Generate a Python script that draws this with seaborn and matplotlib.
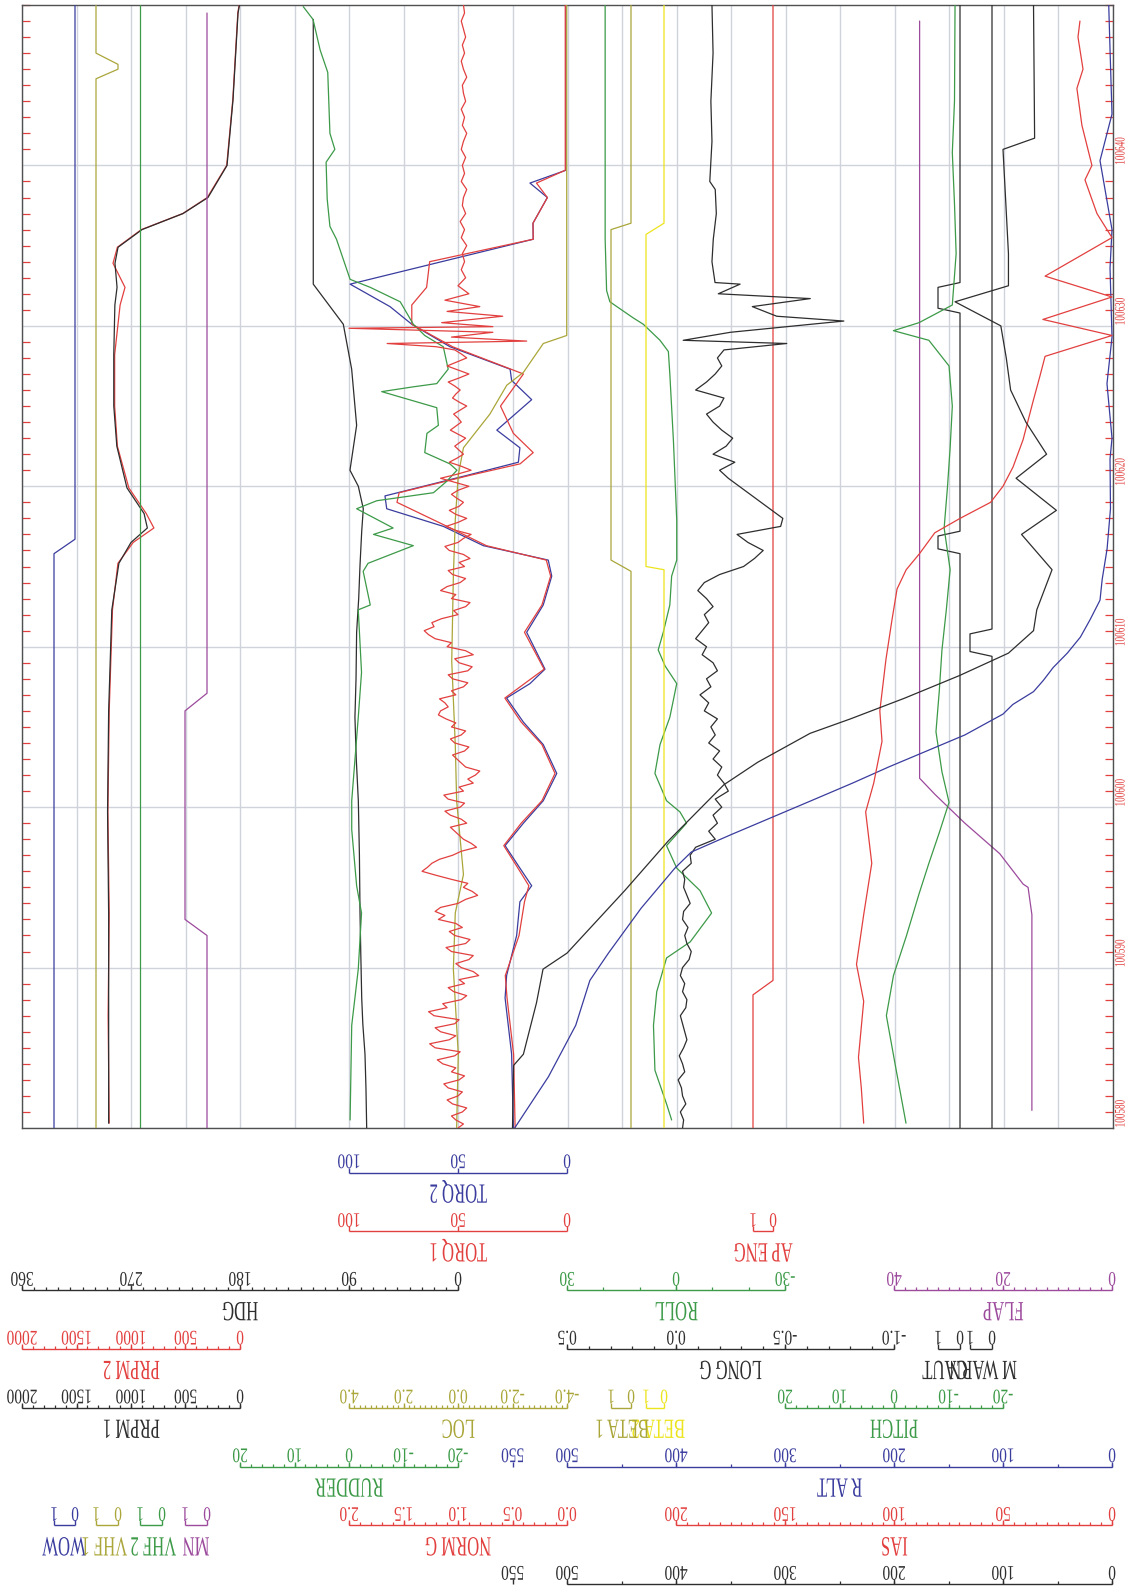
import numpy as np
import matplotlib
matplotlib.use("Agg")
import matplotlib.pyplot as plt
import seaborn as sns
from matplotlib.transforms import Affine2D, blended_transform_factory
from matplotlib.patheffects import AbstractPathEffect

# ------------------------------------------------------------------ data
T_START, T_END = 100580, 100650
TIME_LABELS = [100580, 100590, 100600, 100610, 100620, 100630, 100640]

ALT_TICKS = [0, 100, 200, 300, 400, 500, 550]
IAS_TICKS = [0, 50, 100, 150, 200]
NORM_G_TICKS = [0.0, 0.5, 1.0, 1.5, 2.0]
RUDDER_TICKS = [-20, -10, 0, 10, 20]
PITCH_TICKS = [-20, -10, 0, 10, 20]
LOC_TICKS = [-4.0, -2.0, 0.0, 2.0, 4.0]
PRPM_TICKS = [0, 500, 1000, 1500, 2000]
LONG_G_TICKS = [-1.0, -0.5, 0.0, 0.5]
HDG_TICKS = [0, 90, 180, 270, 360]
ROLL_TICKS = [-30, 0, 30]
FLAP_TICKS = [0, 20, 40]
TORQ_TICKS = [0, 50, 100]
DISCRETE_TICKS = [0, 1]

# normal load factor: samples on the half second from 100580.0 ...
NORM_G_EARLY = [
    1.00, 1.02, 0.96, 1.05, 1.00, 1.09, 0.99, 1.06, 1.14, 1.03,
    1.21, 1.08, 1.16, 1.03, 1.22, 1.10, 0.97, 1.04, 0.94, 0.81,
    0.97, 0.90, 1.06, 0.93, 1.03, 0.96, 1.18, 1.21, 1.00, 0.82,
    0.95, 1.06, 1.33, 1.24, 1.05, 0.83, 0.95, 1.03, 0.92, 1.07,
    0.98, 1.09, 0.95, 0.86, 0.84, 0.93, 1.01, 0.94, 1.03, 0.97,
    1.06, 1.11, 1.16, 1.12, 1.02, 0.95, 1.05, 0.91, 0.99, 0.86,
    1.10, 1.21, 1.31, 1.24, 1.00, 0.93, 1.06, 1.16, 0.98, 1.05,
    0.94, 0.89, 1.08, 1.00, 0.88, 1.11, 0.92, 1.08, 0.95, 1.06,
    0.90, 1.16, 0.88, 1.08, 0.95, 1.03, 0.93, 1.07, 0.97, 1.04,
    0.92, 1.05, 0.98, 1.09, 0.90, 1.10, 0.92, 1.03]
# ... and the samples in between them (100580.25, 100580.75, ...)
NORM_G_MID = [
    0.95, 1.06, 0.92, 1.10, 0.96, 1.13, 0.94, 1.02, 1.19, 0.98,
    1.26, 1.02, 1.21, 0.99, 1.27, 1.14, 0.92, 1.09, 0.99, 0.86,
    1.02, 0.86, 1.11, 0.89, 1.08, 1.02, 1.12, 1.16, 0.93, 0.87,
    0.91, 1.20, 1.28, 1.17, 0.97, 0.88, 0.99, 1.07, 0.97, 1.12,
    0.94, 1.13, 0.99, 0.91, 0.80, 0.97, 1.05, 0.90, 1.07, 0.93,
    1.02, 1.18, 1.09, 1.17, 1.06, 0.91, 1.09, 0.87, 1.03, 0.93,
    1.06, 1.27, 1.22, 1.15, 1.04, 0.89, 1.02, 1.10, 0.93, 1.09,
    0.99, 0.95, 1.12, 0.95, 1.02, 1.00, 1.02, 0.99, 1.01, 1.00,
    1.03, 1.01, 0.97, 1.01, 0.99, 0.98, 1.00, 1.02, 1.00, 0.98,
    0.99, 1.02, 1.03, 0.99, 1.00, 1.01, 0.97]
NORM_G_TD_T = [100628.7, 100628.9, 100629.05, 100629.3, 100629.6, 100629.85,
               100629.95, 100630.2, 100630.6, 100630.9, 100631.2, 100631.6]
NORM_G_TD = [1.20, 1.65, 0.37, 1.06, 0.68, 2.00, 0.68, 1.15, 0.59, 1.10, 0.80, 1.12]
NORM_G_LATE = [  # from 100632.0, every half second
    0.90, 1.00, 0.93, 0.97, 0.94, 0.96, 0.92, 0.97, 0.94, 0.98,
    0.93, 0.96, 0.95, 0.92, 0.97, 0.94, 0.96, 0.93, 0.97, 0.95,
    0.92, 0.96, 0.94, 0.97, 0.93, 0.95, 0.96, 0.92, 0.95, 0.97,
    0.94, 0.96, 0.93, 0.95, 0.97, 0.94, 0.95]

# longitudinal load factor: half-second samples from 100580.0 ...
LONG_G_EARLY = [
    -0.030, -0.035, -0.020, -0.045, -0.030, -0.025, -0.010, -0.040, -0.030, -0.015,
    -0.035, -0.050, -0.040, -0.030, -0.020, -0.045, -0.050, -0.030, -0.040, -0.020,
    -0.030, -0.060, -0.070, -0.050, -0.040, -0.055, -0.030, -0.035, -0.065, -0.050,
    -0.035, -0.040, -0.030, -0.070, -0.065, -0.090, -0.180, -0.150, -0.190, -0.170,
    -0.210, -0.180, -0.240, -0.220, -0.190, -0.210, -0.170, -0.200, -0.150, -0.180,
    -0.160, -0.190, -0.130, -0.150, -0.110, -0.160, -0.140, -0.190, -0.170, -0.120,
    -0.140, -0.090, -0.120, -0.150, -0.130, -0.170, -0.140, -0.100, -0.130, -0.200,
    -0.310, -0.360, -0.400, -0.330, -0.280, -0.480, -0.490, -0.440, -0.390, -0.340,
    -0.290, -0.240, -0.200, -0.270, -0.170, -0.230, -0.260, -0.210, -0.170, -0.140,
    -0.200, -0.220, -0.090, -0.140, -0.180, -0.210, -0.190, -0.220]
# ... then the touchdown and roll-out points
LONG_G_LATE_PTS = [
    (100628.9, -0.508), (100629.1, -0.033), (100629.6, -0.250), (100630.1, -0.620),
    (100630.3, -0.770), (100630.6, -0.462), (100631.2, -0.350), (100631.7, -0.616),
    (100632.0, -0.194), (100632.6, -0.294), (100632.7, -0.179), (100634.0, -0.165),
    (100635.4, -0.171), (100637.0, -0.185), (100638.5, -0.180), (100639.0, -0.155),
    (100641.5, -0.165), (100644.0, -0.160), (100647.0, -0.170), (100650.0, -0.165)]

TORQ2_PTS = [
    (100580.0, 24.6), (100584.6, 25.4), (100588.1, 28.4), (100589.5, 27.7),
    (100592.0, 23.1), (100594.1, 21.6), (100595.1, 16.2), (100596.2, 21.6),
    (100597.6, 28.4), (100599.0, 20.0), (100600.4, 10.9), (100602.1, 4.7),
    (100603.9, 10.9), (100605.3, 20.0), (100606.8, 27.7), (100607.7, 17.0),
    (100608.6, 10.1), (100610.9, 18.5), (100612.6, 10.9), (100614.4, 7.0),
    (100615.4, 8.6), (100616.3, 38.4), (100617.5, 56.7), (100618.6, 82.7),
    (100619.4, 83.5), (100620.7, 45.3), (100621.5, 22.3), (100622.4, 21.6),
    (100623.5, 32.2), (100625.4, 16.2), (100626.6, 25.4), (100627.3, 26.1),
    (100628.7, 53.7), (100630.1, 71.2), (100631.2, 81.2), (100632.6, 99.5),
    (100635.4, 15.5), (100636.4, 15.6), (100638.0, 9.0), (100638.9, 17.0),
    (100639.7, 0.5), (100650.0, 0.5)]
TORQ1_PTS = [
    (100580.0, 23.8), (100584.6, 24.5), (100588.1, 27.5), (100589.5, 28.3),
    (100592.0, 22.0), (100594.1, 19.5), (100595.1, 17.5), (100596.2, 22.5),
    (100597.6, 29.0), (100599.0, 21.0), (100600.4, 11.5), (100602.1, 5.5),
    (100603.9, 11.5), (100605.3, 21.0), (100606.8, 28.5), (100607.7, 19.5),
    (100608.6, 10.5), (100610.9, 19.5), (100612.6, 11.5), (100614.4, 7.5),
    (100615.4, 9.5), (100616.3, 37.0), (100617.5, 55.0), (100619.0, 78.0),
    (100619.6, 77.0), (100620.7, 44.0), (100621.4, 21.5), (100622.1, 15.5),
    (100623.3, 24.6), (100625.0, 30.5), (100627.0, 20.0), (100628.7, 52.5),
    (100630.1, 71.2), (100631.3, 71.2), (100632.4, 64.4), (100634.0, 63.0),
    (100635.4, 15.5), (100636.4, 15.6), (100638.0, 9.0), (100638.9, 14.0),
    (100639.7, 0.8), (100650.0, 0.8)]
LOC_PTS = [
    (100580.0, 0.05), (100584.6, -0.01), (100589.9, 0.17), (100593.4, 0.10),
    (100595.8, -0.20), (100600.4, 0.05), (100603.9, 0.10), (100609.1, 0.23),
    (100614.4, 0.17), (100617.9, 0.10), (100620.7, -0.01), (100622.4, -0.20),
    (100624.5, -1.17), (100626.3, -1.79), (100627.1, -2.40), (100628.9, -3.13),
    (100629.4, -3.99), (100650.0, -3.99)]
HDG_PTS = [
    (100580.0, 75.4), (100582.5, 76.0), (100584.6, 76.8), (100586.5, 78.6),
    (100588.1, 79.5), (100591.0, 80.3), (100593.4, 80.9), (100597.0, 81.4),
    (100600.4, 82.3), (100603.0, 84.0), (100605.6, 85.1), (100608.0, 84.2),
    (100610.9, 83.7), (100613.0, 82.0), (100615.1, 80.9), (100617.2, 79.5),
    (100618.6, 78.2), (100620.0, 82.3), (100621.0, 89.2), (100623.8, 83.7),
    (100627.3, 87.8), (100630.1, 94.7), (100632.6, 119.5), (100649.1, 119.5)]
RUDDER_PTS = [
    (100580.5, -0.2), (100586.4, -0.5), (100589.9, -1.7), (100593.4, -2.3),
    (100595.1, -1.4), (100598.6, -0.5), (100600.4, -0.5), (100605.6, -1.7),
    (100608.4, -2.3), (100612.3, -1.7), (100612.6, -3.9), (100614.7, -2.6),
    (100615.2, -3.5), (100616.3, -11.8), (100617.0, -4.5), (100617.4, -8.1),
    (100618.6, -1.4), (100619.1, -5.1), (100619.6, -15.5), (100620.3, -17.9),
    (100621.0, -19.8), (100621.4, -18.5), (100622.1, -13.9), (100623.3, -14.3),
    (100623.8, -16.4), (100624.9, -16.1), (100625.9, -6.0), (100626.2, -11.8),
    (100626.4, -16.1), (100627.3, -18.2), (100628.7, -17.3), (100629.4, -13.9),
    (100630.1, -11.8), (100631.5, -9.4), (100632.4, -3.9), (100632.9, -0.2),
    (100635.4, 2.3), (100636.2, 3.5), (100637.9, 4.0), (100640.2, 4.2),
    (100641.0, 2.6), (100642.0, 3.5), (100645.8, 3.9), (100647.2, 5.3),
    (100649.1, 6.6), (100649.9, 8.4)]
ROLL_PTS = [
    (100580.5, 1.2), (100581.5, 2.6), (100583.6, 5.8), (100586.4, 6.2),
    (100588.5, 5.3), (100590.6, 2.6), (100591.6, -3.9), (100593.4, -9.8),
    (100594.8, -6.6), (100596.2, -0.2), (100597.6, 2.6), (100599.0, -2.9),
    (100599.7, -1.1), (100600.4, 2.6), (100602.1, 5.8), (100603.9, 4.4),
    (100605.6, 1.7), (100607.7, -0.2), (100608.8, 3.0), (100609.8, 4.9),
    (100610.9, 3.5), (100612.6, 1.7), (100614.4, 1.2), (100615.4, -0.2),
    (100617.9, -0.2), (100622.8, 0.7), (100624.9, 1.2), (100627.0, 1.7),
    (100628.4, 2.1), (100629.1, 4.4), (100630.1, 9.0), (100630.5, 11.8),
    (100631.5, 18.2), (100632.2, 19.1), (100635.4, 19.5), (100650.0, 19.5)]
ALT_PTS = [
    (100580.0, 550), (100583.9, 549), (100584.6, 540), (100587.8, 528),
    (100589.9, 522), (100590.9, 500), (100594.8, 447), (100597.9, 407),
    (100601.4, 356), (100602.8, 325), (100604.6, 277), (100605.5, 240),
    (100606.8, 190), (100608.2, 140), (100609.6, 95), (100611.0, 72),
    (100612.3, 69), (100614.8, 55), (100617.0, 83), (100618.5, 51),
    (100620.5, 88), (100622.0, 60), (100624.0, 79), (100626.0, 93),
    (100628.0, 97), (100630.0, 102), (100631.5, 144), (100632.5, 95),
    (100634.5, 95), (100641.0, 100), (100641.7, 71), (100650.0, 72)]
R_ALT_PTS = [
    (100580.0, 548), (100583.2, 517), (100586.4, 492), (100589.2, 479),
    (100590.9, 462), (100593.7, 432), (100596.2, 401), (100597.2, 386),
    (100598.3, 349), (100600.4, 276), (100601.5, 238), (100602.5, 205),
    (100603.5, 170), (100604.5, 135), (100605.8, 100), (100606.4, 91),
    (100607.2, 72), (100607.9, 63), (100608.7, 54), (100609.6, 41),
    (100610.6, 29), (100611.7, 20), (100612.9, 11), (100614.2, 9),
    (100616.1, 4.5), (100618.6, 1.4), (100621.7, 1.8), (100623.0, 0.0),
    (100626.4, 4.6), (100629.3, 0.0), (100633.6, 1.8), (100636.0, 0.0),
    (100640.3, 11.0), (100643.2, 0.0), (100647.2, 1.8), (100650.0, 3.0)]
IAS_PTS = [
    (100580.3, 113.9), (100582.5, 115.0), (100584.4, 116.3), (100587.9, 113.9),
    (100590.2, 117.2), (100593.3, 113.9), (100596.5, 110.2), (100599.7, 113.0),
    (100601.5, 109.3), (100604.1, 105.5), (100606.0, 106.5), (100609.2, 103.7),
    (100611.7, 100.9), (100613.6, 98.6), (100614.8, 94.4), (100615.8, 88.3),
    (100617.1, 81.3), (100618.0, 69.7), (100619.0, 55.7), (100620.0, 50.0),
    (100621.2, 45.4), (100622.9, 40.8), (100625.3, 36.2), (100626.9, 33.0),
    (100628.1, 30.7), (100629.4, 0.0), (100630.4, 31.7), (100631.8, 0.0),
    (100633.1, 30.7), (100635.5, 0.0), (100637.0, 6.9), (100639.1, 12.4),
    (100640.0, 9.2), (100642.5, 13.8), (100644.8, 16.1), (100646.0, 13.3),
    (100648.0, 15.6), (100649.0, 14.7)]
FLAP_PTS = [
    (100581.1, 14.7), (100593.3, 14.7), (100595.0, 15.4), (100595.2, 16.3),
    (100597.1, 20.6), (100599.0, 27.0), (100600.8, 32.5), (100601.8, 35.3),
    (100649.0, 35.3)]
PITCH_PTS = [
    (100580.3, -2.2), (100583.8, -0.3), (100587.0, 1.4), (100589.5, 0.1),
    (100592.0, -2.3), (100594.6, -4.6), (100596.5, -6.4), (100598.4, -8.3),
    (100600.3, -10.1), (100602.2, -8.8), (100604.7, -7.7), (100607.2, -8.3),
    (100609.8, -8.8), (100612.3, -9.6), (100614.8, -10.3), (100617.4, -9.2),
    (100619.9, -9.8), (100622.4, -10.3), (100625.0, -10.7), (100627.5, -10.1),
    (100629.1, -6.4), (100629.7, 0.1), (100630.2, -4.6), (100631.3, -10.7),
    (100634.5, -11.4), (100637.6, -11.1), (100640.8, -10.7), (100644.0, -11.1),
    (100650.0, -11.2)]
PRPM1_PTS = [
    (100580.3, 1205), (100587.0, 1205), (100593.3, 1205), (100599.7, 1215),
    (100606.0, 1205), (100612.3, 1176), (100615.2, 1111), (100616.5, 1000),
    (100617.4, 850), (100618.3, 880), (100619.9, 1037), (100622.5, 1130),
    (100625.0, 1158), (100628.2, 1158), (100631.3, 1148), (100632.4, 1128),
    (100633.9, 1147), (100634.9, 1119), (100636.0, 899), (100637.0, 523),
    (100638.0, 294), (100640.0, 119), (100644.1, 64), (100649.5, 18),
    (100650.0, 5)]
PRPM2_PTS = [
    (100580.3, 1200), (100587.0, 1210), (100593.3, 1200), (100599.7, 1212),
    (100606.0, 1200), (100612.3, 1170), (100615.2, 1120), (100616.5, 980),
    (100617.4, 790), (100618.3, 860), (100619.9, 1020), (100622.5, 1125),
    (100625.0, 1150), (100628.2, 1150), (100631.3, 1100), (100632.4, 1055),
    (100633.9, 1165), (100634.9, 1125), (100636.0, 905), (100637.0, 525),
    (100638.0, 300), (100640.0, 122), (100644.1, 66), (100649.5, 20),
    (100650.0, 8)]

# discrete (0/1) parameters
AP_ENG_PTS = [(100580.0, 1), (100588.3, 1), (100589.2, 0), (100650.0, 0)]
BETA1_PTS = [(100580.0, 0), (100614.7, 0), (100615.4, 1), (100636.0, 1),
             (100636.4, 0), (100650.0, 0)]
BETA2_PTS = [(100580.0, 0), (100614.8, 0), (100615.0, 1), (100635.7, 1),
             (100636.4, 0), (100650.0, 0)]
M_WARN_PTS = [(100580.0, 0), (100609.4, 0), (100609.7, 1), (100610.8, 1),
              (100611.1, 0), (100650.0, 0)]
CAUT_PTS = [(100580.0, 0), (100615.8, 0), (100616.1, 1), (100616.9, 1),
            (100617.2, 0), (100630.8, 0), (100631.1, 1), (100632.4, 1),
            (100632.7, 0), (100650.0, 0)]
MN_PTS = [(100580.0, 0), (100592.0, 0), (100593.0, 1), (100606.0, 1),
          (100607.1, 0), (100649.5, 0)]
WOW_PTS = [(100580.0, 1), (100615.8, 1), (100616.7, 0), (100650.0, 0)]
VHF1_PTS = [(100580.0, 1), (100645.4, 1), (100646.0, 0), (100646.3, 0),
            (100647.0, 1), (100650.0, 1)]
VHF2_PTS = [(100580.0, 1), (100650.0, 1)]

# ------------------------------------------------------------------ style
RED = "#e2403f"
BLUE = "#3a3c9e"
GREEN = "#3c9a48"
OLIVE = "#aaa63a"
YELLOW = "#ece41c"
PURPLE = "#9c4a9c"
BLACK = "#2e2e2e"
GRID = "#d0d2dc"
FRAME = "#505050"
LW = 0.9

W, H = 1133, 1593
FX0, FX1 = 22.0, 1113.0
FY0, FY1 = 5.0, 1128.0
ROW0, ROW_STEP = 1172.5, 58.8
NUM_SIZE, NAME_SIZE = 15, 20


class Condensed(AbstractPathEffect):
    """Squeeze text glyphs along their baseline around the text centre."""

    def __init__(self, factor):
        super().__init__()
        self.factor = factor

    def draw_path(self, renderer, gc, tpath, affine, rgbFace=None):
        v = tpath.vertices
        cx = 0.5 * (v[:, 0].min() + v[:, 0].max()) if len(v) else 0.0
        squeeze = Affine2D().translate(-cx, 0).scale(self.factor, 1.0).translate(cx, 0)
        renderer.draw_path(gc, tpath, squeeze + affine, rgbFace)


NUM_FX = [Condensed(0.74)]
NAME_FX = [Condensed(0.60)]
TIME_FX = [Condensed(0.63)]


def fig_y(py):
    return 1.0 - py / H


# scale definitions: two (value, pixel) anchors, row below the plot, colour
SCALES = {
    "TORQ 2": dict(a=(0, 567), b=(100, 349), row=0, color=BLUE, ticks=TORQ_TICKS),
    "TORQ 1": dict(a=(0, 567), b=(100, 349), row=1, color=RED, ticks=TORQ_TICKS),
    "AP ENG": dict(a=(0, 773), b=(1, 753), row=1, color=RED, ticks=DISCRETE_TICKS),
    "HDG": dict(a=(0, 458), b=(360, 22), row=2, color=BLACK, ticks=HDG_TICKS, minor=10),
    "ROLL": dict(a=(-30, 785), b=(30, 567), row=2, color=GREEN, ticks=ROLL_TICKS, minor=10),
    "FLAP": dict(a=(0, 1112), b=(40, 894), row=2, color=PURPLE, ticks=FLAP_TICKS, minor=2),
    "PRPM 2": dict(a=(0, 240), b=(2000, 22), row=3, color=RED, ticks=PRPM_TICKS, minor=100),
    "LONG G": dict(a=(-1.0, 894), b=(0.5, 567), row=3, color=BLACK, ticks=LONG_G_TICKS,
                   minor=0.1, fmt="{:.1f}"),
    "M WARN": dict(a=(0, 992), b=(1, 970), row=3, color=BLACK, ticks=DISCRETE_TICKS, name_x=983),
    "CAUT": dict(a=(0, 960), b=(1, 938), row=3, color=BLACK, ticks=DISCRETE_TICKS, name_x=945),
    "PRPM 1": dict(a=(0, 240), b=(2000, 22), row=4, color=BLACK, ticks=PRPM_TICKS, minor=100),
    "LOC": dict(a=(-4.0, 567), b=(4.0, 349), row=4, color=OLIVE, ticks=LOC_TICKS,
                minor=0.2, fmt="{:.1f}"),
    "BETA 2": dict(a=(0, 664), b=(1, 646), row=4, color=YELLOW, ticks=DISCRETE_TICKS, name_x=658),
    "BETA 1": dict(a=(0, 631), b=(1, 611), row=4, color=OLIVE, ticks=DISCRETE_TICKS, name_x=622),
    "PITCH": dict(a=(-20, 1003), b=(20, 785), row=4, color=GREEN, ticks=PITCH_TICKS, minor=2),
    "RUDDER": dict(a=(-20, 458), b=(20, 240), row=5, color=GREEN, ticks=RUDDER_TICKS, minor=2),
    "R ALT": dict(a=(0, 1112), b=(500, 567), row=5, color=BLUE, ticks=ALT_TICKS, minor=50),
    "NORM G": dict(a=(0.0, 567), b=(2.0, 349), row=6, color=RED, ticks=NORM_G_TICKS,
                   minor=0.1, fmt="{:.1f}"),
    "IAS": dict(a=(0, 1112), b=(200, 676), row=6, color=RED, ticks=IAS_TICKS, minor=5),
    "WOW": dict(a=(0, 75), b=(1, 54), row=6, color=BLUE, ticks=DISCRETE_TICKS, name_x=64),
    "VHF 1": dict(a=(0, 118), b=(1, 96), row=6, color=OLIVE, ticks=DISCRETE_TICKS, name_x=104),
    "VHF 2": dict(a=(0, 162), b=(1, 140), row=6, color=GREEN, ticks=DISCRETE_TICKS, name_x=153),
    "MN": dict(a=(0, 207), b=(1, 185), row=6, color=PURPLE, ticks=DISCRETE_TICKS, name_x=196),
    "ALT": dict(a=(0, 1112), b=(500, 567), row=7, color=BLACK, ticks=ALT_TICKS, minor=50),
}


def pts(p):
    t, v = zip(*p)
    return np.asarray(t, float), np.asarray(v, float)


# interleave the half-second and in-between normal-g samples
norm_fast = np.empty(len(NORM_G_EARLY) + len(NORM_G_MID))
norm_fast[0::2] = NORM_G_EARLY
norm_fast[1::2] = NORM_G_MID
norm_t = np.concatenate([
    T_START + 0.25 * np.arange(len(norm_fast)),
    np.asarray(NORM_G_TD_T),
    100632.0 + 0.5 * np.arange(len(NORM_G_LATE)),
])
norm_v = np.concatenate([norm_fast, NORM_G_TD, NORM_G_LATE])

lg_late_t, lg_late_v = pts(LONG_G_LATE_PTS)
long_t = np.concatenate([T_START + 0.5 * np.arange(len(LONG_G_EARLY)), lg_late_t])
long_v = np.concatenate([LONG_G_EARLY, lg_late_v])

SERIES = {
    "M WARN": pts(M_WARN_PTS), "CAUT": pts(CAUT_PTS),
    "MN": pts(MN_PTS), "WOW": pts(WOW_PTS), "VHF 1": pts(VHF1_PTS), "VHF 2": pts(VHF2_PTS),
    "AP ENG": pts(AP_ENG_PTS), "BETA 1": pts(BETA1_PTS), "BETA 2": pts(BETA2_PTS),
    "FLAP": pts(FLAP_PTS), "PITCH": pts(PITCH_PTS), "IAS": pts(IAS_PTS),
    "ALT": pts(ALT_PTS), "R ALT": pts(R_ALT_PTS),
    "LONG G": (long_t, long_v), "ROLL": pts(ROLL_PTS),
    "HDG": pts(HDG_PTS), "RUDDER": pts(RUDDER_PTS), "LOC": pts(LOC_PTS),
    "NORM G": (norm_t, norm_v),
    "TORQ 2": pts(TORQ2_PTS), "TORQ 1": pts(TORQ1_PTS),
    "PRPM 1": pts(PRPM1_PTS), "PRPM 2": pts(PRPM2_PTS),
}

# ------------------------------------------------------------------ figure
sns.set_theme(style="white")
plt.rcParams["font.family"] = ["Liberation Serif", "DejaVu Serif"]

fig = plt.figure(figsize=(W / 100, H / 100), dpi=100)
fig.patch.set_facecolor("white")
frame_pos = [FX0 / W, 1 - FY1 / H, (FX1 - FX0) / W, (FY1 - FY0) / H]

# background frame with grid and time ticks
base = fig.add_axes(frame_pos, label="frame")
base.set_xlim(0, 20)
base.set_ylim(T_START, T_END)
base.set_xticks(range(21))
base.set_yticks(TIME_LABELS)
base.set_yticks(np.arange(T_START, T_END + 1), minor=True)
base.grid(True, which="major", color=GRID, lw=1.0)
base.tick_params(which="major", length=0, labelleft=False, labelbottom=False)
base.tick_params(axis="y", which="minor", direction="in", length=6, width=0.9,
                 color=RED, left=True, right=True)
base.set_facecolor("white")
for s in base.spines.values():
    s.set_color(FRAME)
    s.set_linewidth(1.0)

ttr = blended_transform_factory(fig.transFigure, base.transData)
px_per_s = (FY1 - FY0) / (T_END - T_START)
for t in TIME_LABELS:
    base.text(1121 / W, t + 14.5 / px_per_s, str(t), transform=ttr, rotation=90,
              ha="center", va="center", fontsize=10.5, color=RED,
              path_effects=TIME_FX, clip_on=False)


def value_limits(spec):
    (va, xa), (vb, xb) = spec["a"], spec["b"]
    k = (xb - xa) / (vb - va)
    return va + (FX0 - xa) / k, va + (FX1 - xa) / k


tracks = {}
for name, spec in SCALES.items():
    ax = fig.add_axes(frame_pos, label=name)
    ax.set_facecolor("none")
    tracks[name] = ax

# traces
for name, (tt, vv) in SERIES.items():
    ax = tracks[name]
    sns.lineplot(x=vv, y=tt, ax=ax, color=SCALES[name]["color"], linewidth=LW,
                 sort=False, estimator=None, orient="y", legend=False)

for name, ax in tracks.items():
    ax.set_xlim(*value_limits(SCALES[name]))
    ax.set_ylim(T_START, T_END)
    ax.set_autoscale_on(False)
    ax.set_axis_off()


# scale bars below the plot (printed upside down like the rest of the sheet)
def draw_scale(name, spec):
    ax = tracks[name]
    tr = blended_transform_factory(ax.transData, fig.transFigure)
    yl = ROW0 + ROW_STEP * spec["row"]
    c = spec["color"]
    v0, v1 = spec["a"][0], spec["b"][0]
    ax.plot([v0, v1], [fig_y(yl), fig_y(yl)], color=c, lw=1.0, transform=tr,
            clip_on=False, solid_capstyle="butt")
    if spec.get("minor"):
        lo, hi = min(v0, v1), max(v0, v1)
        n = int(round((hi - lo) / spec["minor"]))
        ax.vlines(np.linspace(lo, hi, n + 1), fig_y(yl), fig_y(yl - 3), colors=c,
                  lw=0.9, transform=tr, clip_on=False)
    ax.vlines(spec["ticks"], fig_y(yl), fig_y(yl - 5), colors=c, lw=1.0,
              transform=tr, clip_on=False)
    fmt = spec.get("fmt")
    for tv in spec["ticks"]:
        lab = fmt.format(tv) if fmt else f"{tv:g}"
        ax.text(tv, fig_y(yl - 13.5), lab, transform=tr, rotation=180, ha="center",
                va="center", fontsize=NUM_SIZE, color=c, path_effects=NUM_FX,
                clip_on=False)
    ny = fig_y(yl + 18.5)
    if "name_x" in spec:
        fig.text(spec["name_x"] / W, ny, name, rotation=180, ha="center", va="center",
                 fontsize=NAME_SIZE, color=c, path_effects=NAME_FX)
    else:
        ax.text(0.5 * (v0 + v1), ny, name, transform=tr, rotation=180, ha="center",
                va="center", fontsize=NAME_SIZE, color=c, path_effects=NAME_FX,
                clip_on=False)


for name, spec in SCALES.items():
    draw_scale(name, spec)

fig.savefig("out.png", dpi=100, facecolor="white")
